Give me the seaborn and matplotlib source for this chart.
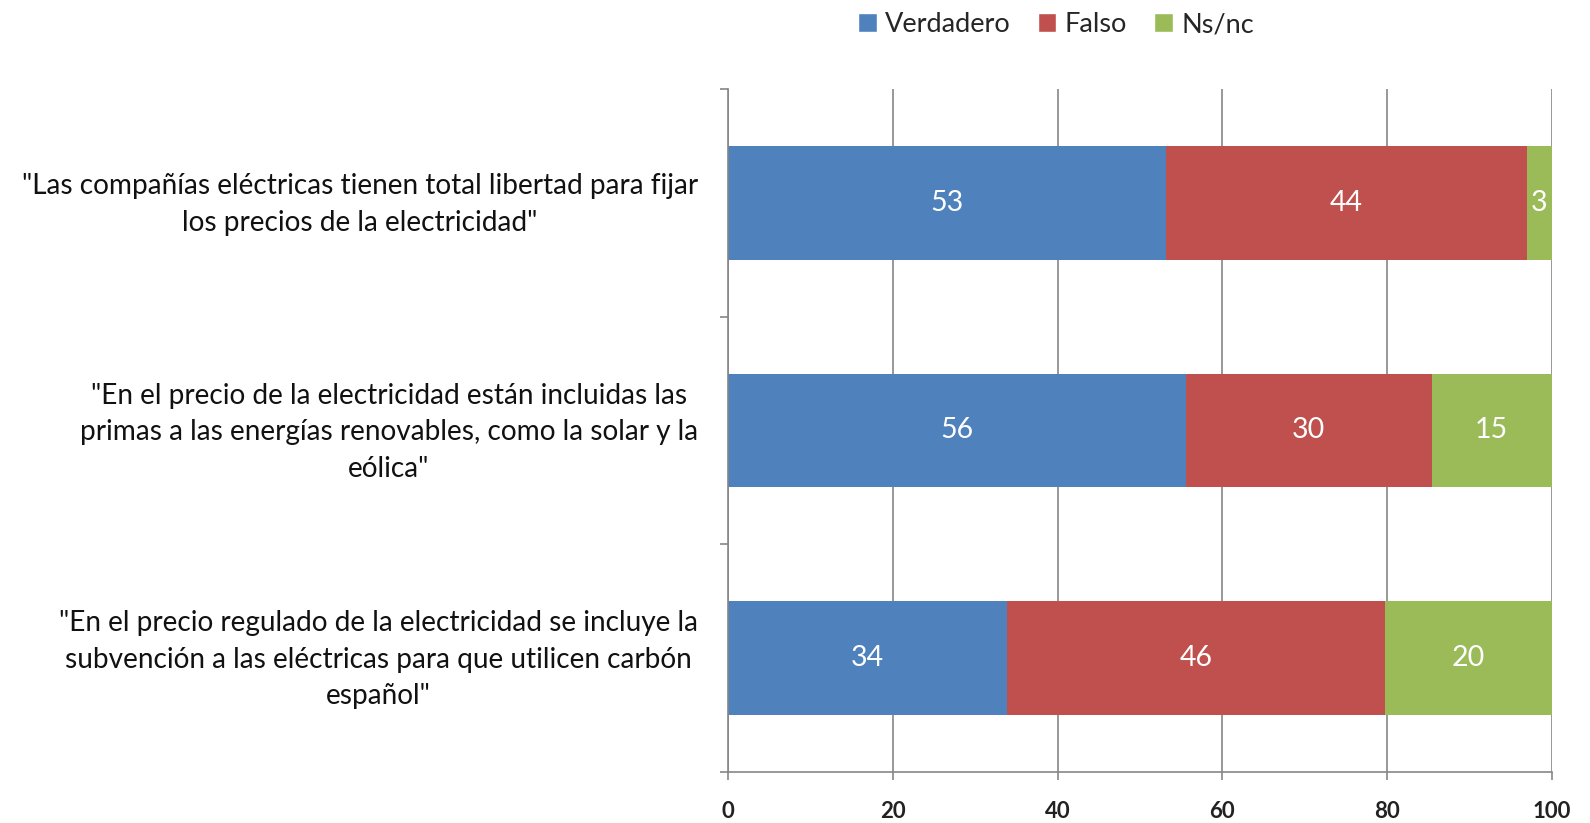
import matplotlib
matplotlib.use("Agg")
import matplotlib.pyplot as plt
import matplotlib.transforms as mtransforms
import seaborn as sns
import pandas as pd
import numpy as np
from matplotlib.patches import Patch

# Datos del gráfico
categorias = [
    '"Las compañías eléctricas tienen total libertad para fijar\nlos precios de la electricidad"',
    '"En el precio de la electricidad están incluidas las\nprimas a las energías renovables, como la solar y la\neólica"',
    '"En el precio regulado de la electricidad se incluye la\nsubvención a las eléctricas para que utilicen carbón\nespañol"',
]
verdadero = [53.1, 55.6, 33.8]
falso = [43.9, 29.8, 46.0]
nsnc = [3.0, 14.6, 20.2]
series = ["Verdadero", "Falso", "Ns/nc"]
colores = ["#4F81BD", "#C0504D", "#9BBB59"]
ticks_x = [0, 20, 40, 60, 80, 100]

sns.set_theme(style="white")
plt.rcParams["font.family"] = ["Lato", "DejaVu Sans"]

df = pd.DataFrame({"pregunta": categorias, "Verdadero": verdadero,
                   "Falso": falso, "Ns/nc": nsnc})
acum = df[series].cumsum(axis=1)

fig = plt.figure(figsize=(15.9, 8.23), dpi=100)
ax = fig.add_axes([0.458, 0.062, 0.518, 0.830])

# barras apiladas: se dibuja de la suma total hacia atrás
for s, c in reversed(list(zip(series, colores))):
    sns.barplot(x=acum[s], y=df["pregunta"], color=c, width=0.5,
                orient="h", ax=ax, saturation=1, linewidth=0)

# etiquetas de valor centradas en cada segmento
for i in range(len(categorias)):
    inicio = 0
    for s in series:
        val = df.loc[i, s]
        ax.text(inicio + val / 2, i, f"{val:.0f}", ha="center", va="center",
                color="white", fontsize=20.5)
        inicio += val

ax.set_xlim(0, 100)
ax.set_ylim(2.5, -0.5)
ax.set_xticks(ticks_x)
ax.set_xticklabels([str(t) for t in ticks_x], fontsize=16, fontweight="bold",
                   color="#222222")
ax.set_xlabel("")
ax.set_ylabel("")
ax.grid(axis="x", color="#868686", linewidth=1.2)
ax.set_axisbelow(True)
for lado in ["top", "right"]:
    ax.spines[lado].set_visible(False)
for lado in ["left", "bottom"]:
    ax.spines[lado].set_color("#868686")
    ax.spines[lado].set_linewidth(1.2)

ax.tick_params(axis="x", bottom=True, length=6, width=1.2, color="#868686",
               pad=15)
ax.set_yticks(range(len(categorias)))
ax.set_yticklabels(categorias, fontsize=20.2, multialignment="center",
                   linespacing=1.5, color="#111111")
ax.tick_params(axis="y", left=False, pad=16)
ax.set_yticks([-0.5, 0.5, 1.5, 2.5], minor=True)
ax.tick_params(axis="y", which="minor", left=True, length=6, width=1.2,
               color="#868686")

# subir un poco las etiquetas de las preguntas
subir = mtransforms.ScaledTranslation(0, 6 / 100, fig.dpi_scale_trans)
for etiqueta in ax.get_yticklabels():
    etiqueta.set_transform(etiqueta.get_transform() + subir)

handles = [Patch(facecolor=c, label=s) for s, c in zip(series, colores)]
fig.legend(handles=handles, loc="upper center", bbox_to_anchor=(0.664, 1.015),
           ncol=3, frameon=False, fontsize=19.5, handlelength=0.7,
           handleheight=0.7, handletextpad=0.3, columnspacing=1.0)

fig.savefig("out.png", dpi=100)
